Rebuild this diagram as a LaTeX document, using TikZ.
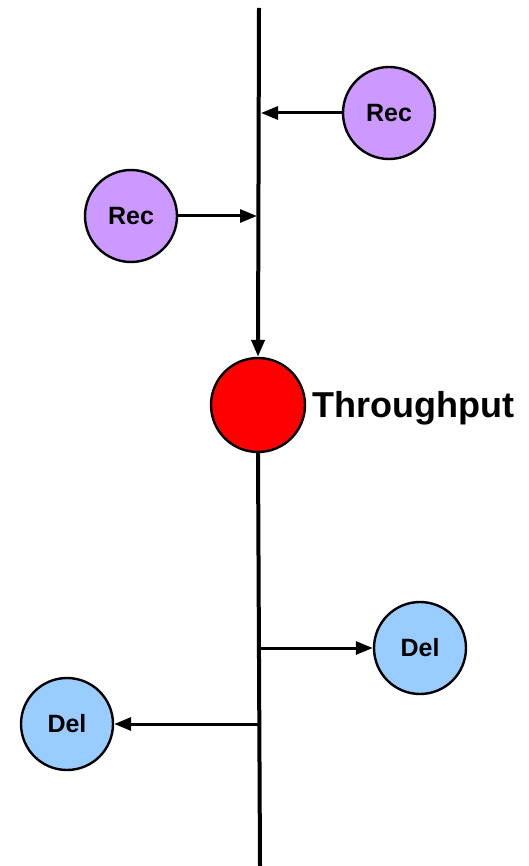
\documentclass[tikz,border=0pt]{standalone}
\usepackage{fontspec}
\setmainfont{Liberation Sans}
\usetikzlibrary{arrows.meta}
\definecolor{recfill}{HTML}{CC99FF}
\definecolor{delfill}{HTML}{99CCFF}
\begin{document}
\begin{tikzpicture}[x=1pt,y=-1pt,
  ball/.style={circle,draw=black,line width=2.4pt,minimum size=92pt,inner sep=0pt,font=\bfseries\fontsize{25}{27}\selectfont},
  flow/.style={line width=3pt,-{Triangle[length=17pt,width=13pt]}},
  trunk/.style={line width=4pt}]
\useasboundingbox (0,0) rectangle (529,866);
\coordinate (top) at (259,8);
\coordinate (bot) at (260,866);
\node[ball,fill=red,minimum size=94pt] (tp) at (258,405) {};
\node[anchor=west,inner sep=0pt,font=\bfseries\fontsize{36}{40}\selectfont] (tplabel) at (312,408) {Throughput};
\node[ball,fill=recfill] (rec1) at (389,113) {Rec};
\node[ball,fill=recfill] (rec2) at (131,216) {Rec};
\node[ball,fill=delfill] (del1) at (420,648) {Del};
\node[ball,fill=delfill] (del2) at (67,724) {Del};
\coordinate (j1) at (261,113);
\coordinate (j2) at (257,216);
\coordinate (j3) at (260,648);
\coordinate (j4) at (260,724);
\draw[flow,trunk] (top) -- (tp.north);
\draw[trunk] (tp.south) -- (bot);
\draw[flow] (rec1.west) -- (j1);
\draw[flow] (rec2.east) -- (j2);
\draw[flow] (j3) -- (del1.west);
\draw[flow] (j4) -- (del2.east);
\end{tikzpicture}
\end{document}
